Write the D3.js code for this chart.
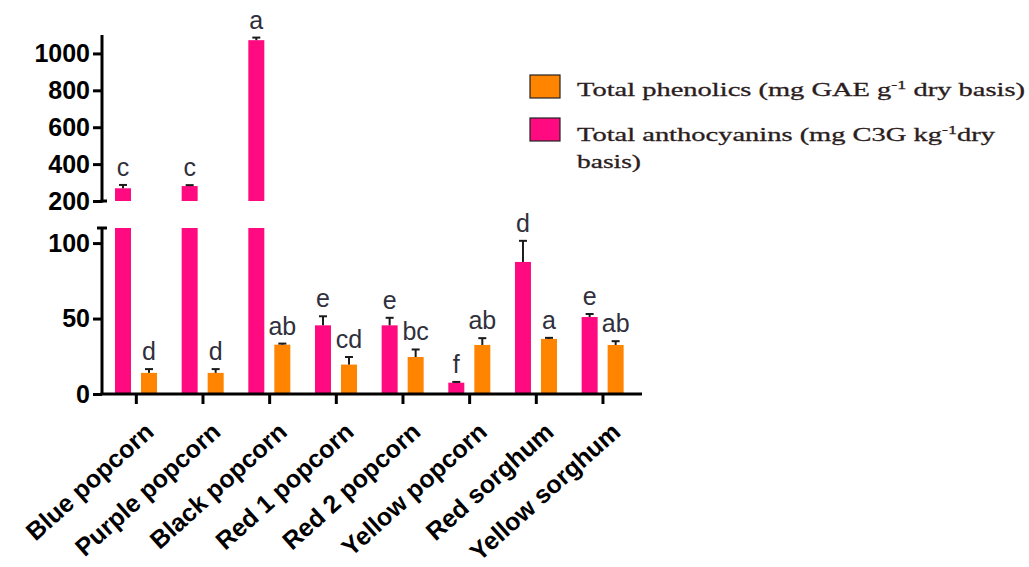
<!DOCTYPE html>
<html>
<head>
<meta charset="utf-8">
<script src="https://cdn.jsdelivr.net/npm/d3@7"></script>
<style>
  html, body { margin: 0; padding: 0; background: #fff; }
  svg { display: block; }
</style>
</head>
<body>
<svg id="chart" width="1029" height="567"></svg>
<script>
// Cereal samples and their measured contents
const categories = ["Blue popcorn", "Purple popcorn", "Black popcorn", "Red 1 popcorn",
                    "Red 2 popcorn", "Yellow popcorn", "Red sorghum", "Yellow sorghum"];
const anthocyanins    = [269, 281, 1072, 45.5, 45.5, 7.5, 87.5, 51];
const anthocyaninsErr = [18, 5, 14, 6, 5, 0.5, 14, 2];
const phenolics       = [14, 14, 32.7, 19.5, 24.5, 32.5, 36.5, 32.5];
const phenolicsErr    = [2.5, 2.5, 0.7, 5, 5, 4.5, 0.7, 2.5];
const anthocyaninsLetters = ["c", "c", "a", "e", "e", "f", "d", "e"];
const phenolicsLetters    = ["d", "d", "ab", "cd", "bc", "ab", "a", "ab"];
const upperTicks = [200, 400, 600, 800, 1000];
const lowerTicks = [0, 50, 100];
const seriesNames = ["anthocyanins", "phenolics"];

const colors = { anthocyanins: "#ff0a80", phenolics: "#ff8400" };
const letterColor = "#30303c";

const svg = d3.select("#chart");

// Broken y axis: lower segment 0–110, upper segment 200–1100
const yLow = d3.scaleLinear().domain([0, 110]).range([394, 228]);
const yHigh = d3.scaleLinear().domain([200, 1100]).range([201, 35]);
const yPos = v => v <= 110 ? yLow(v) : yHigh(v);

const x0 = d3.scaleBand().domain(categories).range([103, 636.3]);
const x1 = d3.scaleBand().domain(seriesNames).range([12, 54]).paddingInner(0.385);

const rows = categories.map((c, i) => ({
  cat: c,
  items: [
    { key: "anthocyanins", v: anthocyanins[i], e: anthocyaninsErr[i], lab: anthocyaninsLetters[i] },
    { key: "phenolics", v: phenolics[i], e: phenolicsErr[i], lab: phenolicsLetters[i] }
  ]
}));

const groups = svg.append("g").selectAll("g").data(rows).join("g")
  .attr("transform", d => `translate(${x0(d.cat)},0)`);

const bars = groups.selectAll("g").data(d => d.items).join("g");

// lower piece of every bar
bars.append("rect")
  .attr("x", d => x1(d.key))
  .attr("width", x1.bandwidth())
  .attr("y", d => yLow(Math.min(d.v, 110)))
  .attr("height", d => yLow(0) - yLow(Math.min(d.v, 110)))
  .attr("fill", d => colors[d.key]);

// upper piece for values above the break
bars.filter(d => d.v > 110).append("rect")
  .attr("x", d => x1(d.key))
  .attr("width", x1.bandwidth())
  .attr("y", d => yHigh(d.v))
  .attr("height", d => yHigh(200) - yHigh(d.v))
  .attr("fill", d => colors[d.key]);

// error bars (upper half only)
const capW = 8;
bars.append("line")
  .attr("x1", d => x1(d.key) + x1.bandwidth() / 2)
  .attr("x2", d => x1(d.key) + x1.bandwidth() / 2)
  .attr("y1", d => yPos(d.v))
  .attr("y2", d => yPos(d.v + d.e))
  .attr("stroke", "#1a1a1a").attr("stroke-width", 2);
bars.append("line")
  .attr("x1", d => x1(d.key) + x1.bandwidth() / 2 - capW / 2)
  .attr("x2", d => x1(d.key) + x1.bandwidth() / 2 + capW / 2)
  .attr("y1", d => yPos(d.v + d.e))
  .attr("y2", d => yPos(d.v + d.e))
  .attr("stroke", "#1a1a1a").attr("stroke-width", 2);

// significance letters
bars.append("text")
  .attr("x", d => x1(d.key) + x1.bandwidth() / 2)
  .attr("y", d => yPos(d.v + d.e) - 9)
  .attr("text-anchor", "middle")
  .attr("font-family", "Liberation Sans, Arial, sans-serif")
  .attr("font-size", 25)
  .attr("fill", letterColor)
  .text(d => d.lab);

// axes
function styleAxis(g) {
  g.selectAll("line").attr("stroke", "#000").attr("stroke-width", 3);
  g.selectAll("path").attr("stroke", "#000").attr("stroke-width", 3);
  g.selectAll("text")
    .attr("fill", "#000")
    .attr("font-family", "Liberation Sans, Arial, sans-serif")
    .attr("font-weight", "bold")
    .attr("font-size", 25);
}

const axisX = 102;
const upperAxis = svg.append("g").attr("transform", `translate(${axisX},0)`)
  .call(d3.axisLeft(yHigh).tickValues(upperTicks).tickFormat(d3.format("d"))
    .tickSize(9).tickSizeOuter(0).tickPadding(3));
upperAxis.select(".domain").remove();
upperAxis.call(styleAxis);
upperAxis.append("line").attr("x1", 0).attr("x2", 0).attr("y1", 35).attr("y2", yHigh(200) + 1.5)
  .attr("stroke", "#000").attr("stroke-width", 3);
upperAxis.append("line").attr("x1", -1.5).attr("x2", 5).attr("y1", yHigh(200)).attr("y2", yHigh(200))
  .attr("stroke", "#000").attr("stroke-width", 3);

const lowerAxis = svg.append("g").attr("transform", `translate(${axisX},0)`)
  .call(d3.axisLeft(yLow).tickValues(lowerTicks).tickFormat(d3.format("d"))
    .tickSize(9).tickSizeOuter(0).tickPadding(3));
lowerAxis.select(".domain").remove();
lowerAxis.call(styleAxis);
lowerAxis.append("line").attr("x1", 0).attr("x2", 0).attr("y1", yLow(110)).attr("y2", yLow(0))
  .attr("stroke", "#000").attr("stroke-width", 3);
lowerAxis.append("line").attr("x1", -5).attr("x2", 5).attr("y1", yLow(110)).attr("y2", yLow(110))
  .attr("stroke", "#000").attr("stroke-width", 3);

const bottomAxis = svg.append("g").attr("transform", `translate(0,${yLow(0)})`)
  .call(d3.axisBottom(x0).tickSize(10).tickSizeOuter(0));
bottomAxis.select(".domain").remove();
bottomAxis.call(styleAxis);
bottomAxis.append("line").attr("x1", axisX - 1.5).attr("x2", 642).attr("y1", 0).attr("y2", 0)
  .attr("stroke", "#000").attr("stroke-width", 3);
bottomAxis.selectAll(".tick text")
  .attr("text-anchor", "end")
  .attr("font-size", 25)
  .attr("y", null).attr("dy", null)
  .attr("transform", "translate(19,40) rotate(-42)");

// legend
const legend = svg.append("g").attr("font-family", "Liberation Serif, Times New Roman, serif")
  .attr("fill", "#2b1d1d");
const legendItems = [
  { key: "phenolics", y: 75 },
  { key: "anthocyanins", y: 118 }
];
legend.selectAll("rect").data(legendItems).join("rect")
  .attr("x", 530).attr("y", d => d.y).attr("width", 30).attr("height", 23)
  .attr("fill", d => colors[d.key]).attr("stroke", "#222").attr("stroke-width", 1.2);

function legendLine(y, parts, len) {
  const t = legend.append("text")
    .attr("x", 577).attr("y", y)
    .attr("font-size", 19)
    .attr("stroke", "#2b1d1d").attr("stroke-width", 0.3)
    .attr("textLength", len)
    .attr("lengthAdjust", "spacingAndGlyphs");
  parts.forEach(p => {
    const s = t.append("tspan").text(p.t);
    if (p.sup) s.attr("font-size", 12).attr("baseline-shift", "super");
  });
}
legendLine(96, [{ t: "Total phenolics (mg GAE g" }, { t: "-1", sup: true }, { t: " dry basis)" }], 448);
legendLine(141, [{ t: "Total anthocyanins (mg C3G kg" }, { t: "-1", sup: true }, { t: "dry" }], 418);
legendLine(168, [{ t: "basis)" }], 64);
</script>
</body>
</html>
